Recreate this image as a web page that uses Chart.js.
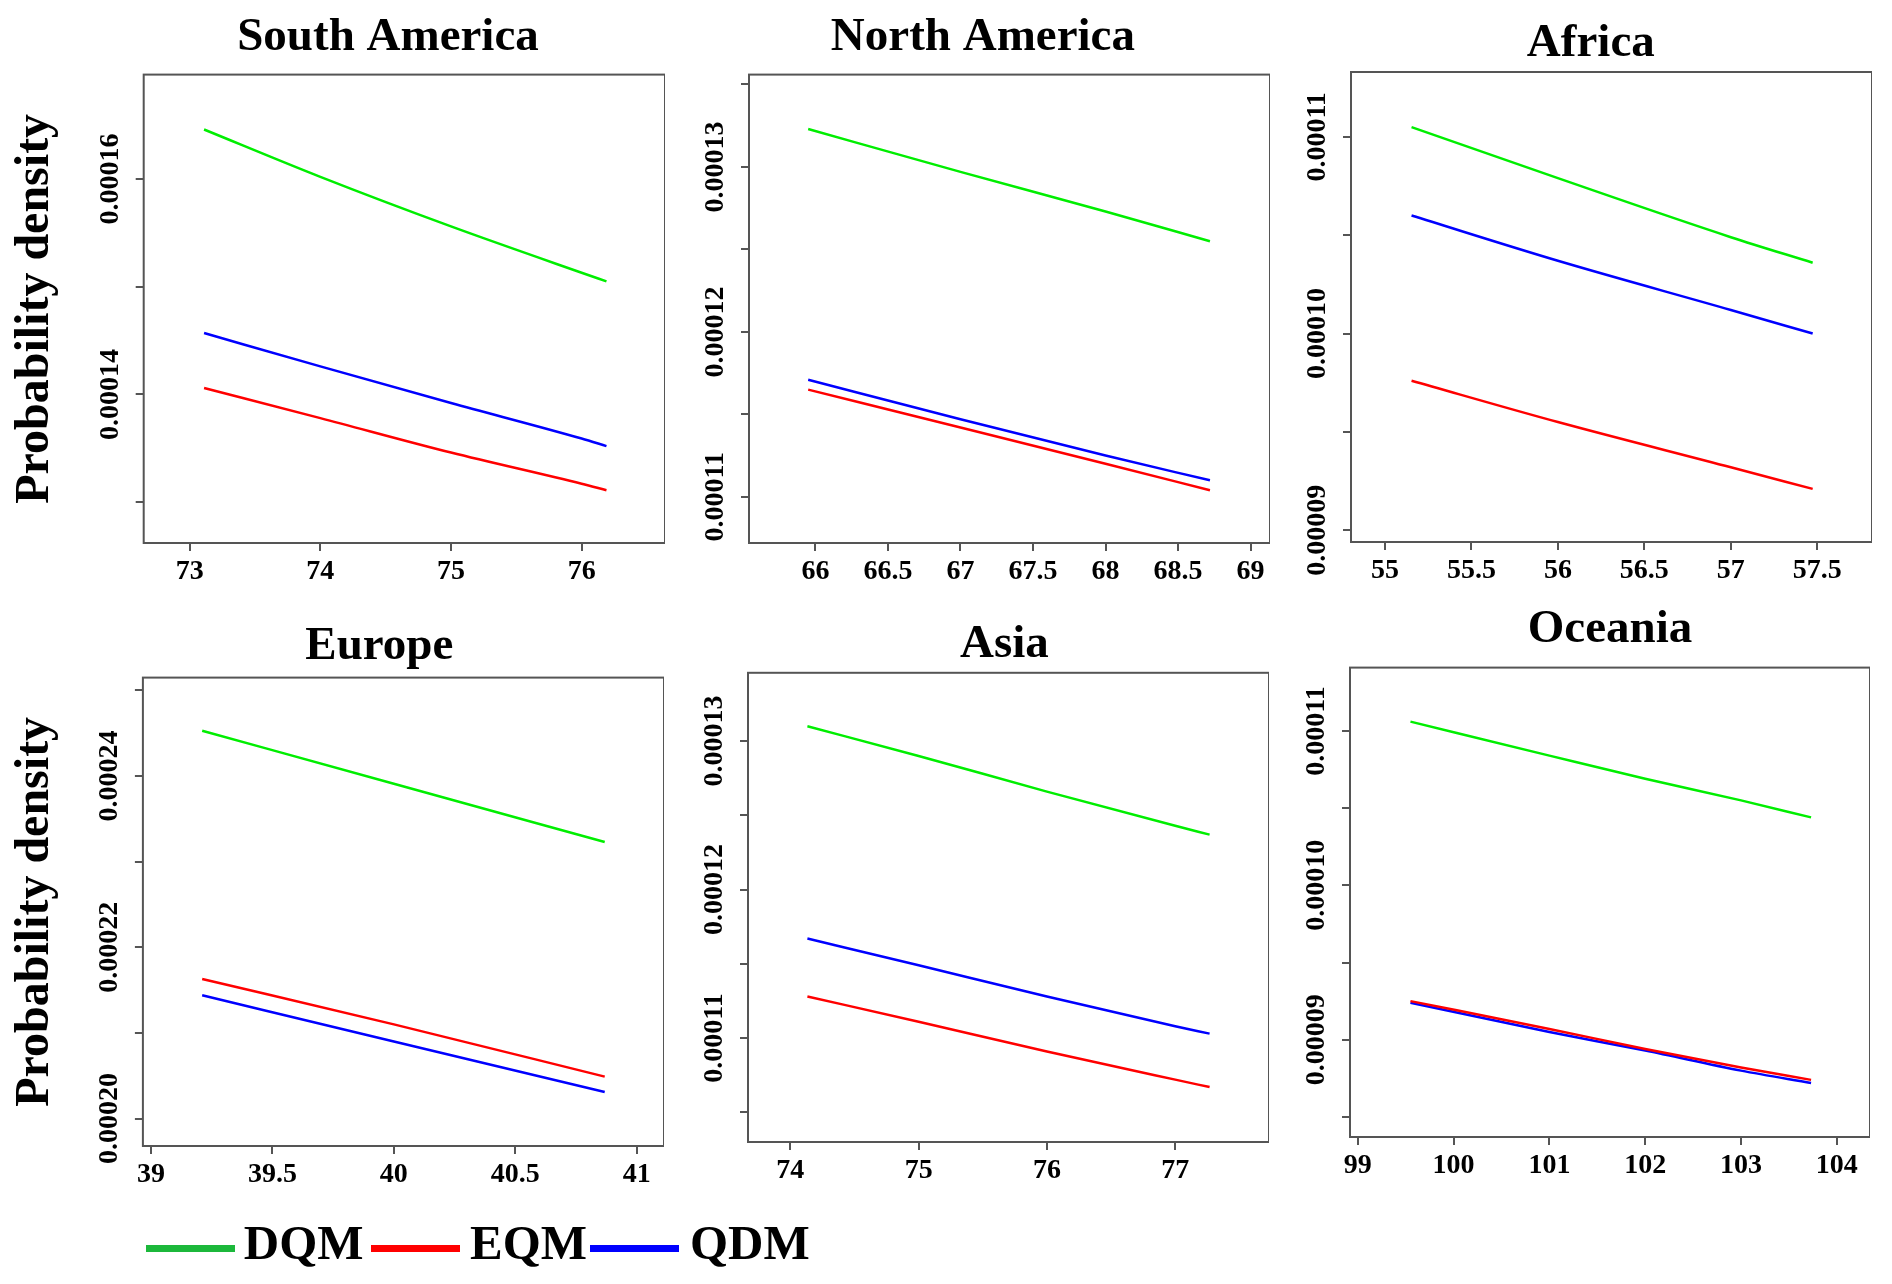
<!DOCTYPE html>
<html>
<head>
<meta charset="utf-8">
<script src="https://cdn.jsdelivr.net/npm/chart.js@4.4.1/dist/chart.umd.min.js"></script>
<style>
    html, body { margin: 0; padding: 0; width: 1892px; height: 1284px; overflow: hidden; background: #fff; }
    canvas { position: absolute; }
    .key-line { position: absolute; height: 7px; }
    .key-text { position: absolute; font: bold 49px "Liberation Serif", "Times New Roman", serif; line-height: 49px; color: #000; }
</style>
</head>
<body>
<script>
// ---- data ----
const seriesNames = ['DQM', 'EQM', 'QDM'];

// South America
const saX = [73.11, 74, 75, 76, 76.19];
const saDQM = [0.0001646, 0.0001602, 0.0001556, 0.0001513, 0.0001505];
const saEQM = [0.0001406, 0.0001378, 0.0001346, 0.0001317, 0.0001311];
const saQDM = [0.0001457, 0.0001426, 0.0001392, 0.0001359, 0.0001352];
const saXTicks = [73, 74, 75, 76];
const saYTicks = [0.00013, 0.00014, 0.00015, 0.00016];
const saYTickText = ['', '0.00014', '', '0.00016'];

// North America
const naX = [65.95, 67, 68, 68.72];
const naDQM = [0.0001323, 0.0001297, 0.0001273, 0.0001255];
const naEQM = [0.0001165, 0.0001142, 0.000112, 0.0001104];
const naQDM = [0.0001171, 0.0001147, 0.0001125, 0.000111];
const naXTicks = [66, 66.5, 67, 67.5, 68, 68.5, 69];
const naYTicks = [0.00011, 0.000115, 0.00012, 0.000125, 0.00013, 0.000135];
const naYTickText = ['0.00011', '', '0.00012', '', '0.00013', ''];

// Africa
const afX = [55.154, 56, 57, 57.473];
const afDQM = [0.0001105, 0.0001079, 0.0001049, 0.0001036];
const afEQM = [0.0000976, 0.0000955, 0.0000932, 0.0000921];
const afQDM = [0.000106, 0.0001037, 0.0001012, 0.0001];
const afXTicks = [55, 55.5, 56, 56.5, 57, 57.5];
const afYTicks = [0.00009, 0.000095, 0.0001, 0.000105, 0.00011];
const afYTickText = ['0.00009', '', '0.00010', '', '0.00011'];

// Europe
const euX = [39.211, 40, 40.868];
const euDQM = [0.0002453, 0.0002391, 0.0002323];
const euEQM = [0.0002163, 0.000211, 0.0002049];
const euQDM = [0.0002144, 0.000209, 0.0002031];
const euXTicks = [39, 39.5, 40, 40.5, 41];
const euYTicks = [0.0002, 0.00021, 0.00022, 0.00023, 0.00024, 0.00025];
const euYTickText = ['0.00020', '', '0.00022', '', '0.00024', ''];

// Asia
const asX = [74.133, 75, 76, 77, 77.268];
const asDQM = [0.000131, 0.000129, 0.0001266, 0.0001243, 0.0001237];
const asEQM = [0.0001128, 0.0001111, 0.0001091, 0.0001072, 0.0001067];
const asQDM = [0.0001167, 0.0001149, 0.0001128, 0.0001108, 0.0001103];
const asXTicks = [74, 75, 76, 77];
const asYTicks = [0.000105, 0.00011, 0.000115, 0.00012, 0.000125, 0.00013];
const asYTickText = ['', '0.00011', '', '0.00012', '', '0.00013'];

// Oceania
const ocX = [99.55, 101, 102, 103, 103.731];
const ocDQM = [0.0001106, 0.0001084, 0.0001069, 0.0001055, 0.0001044];
const ocEQM = [0.0000925, 0.0000907, 0.0000894, 0.0000882, 0.0000874];
const ocQDM = [0.0000924, 0.0000905, 0.0000893, 0.000088, 0.0000872];
const ocXTicks = [99, 100, 101, 102, 103, 104];
const ocYTicks = [0.000085, 0.00009, 0.000095, 0.0001, 0.000105, 0.00011];
const ocYTickText = ['', '0.00009', '', '0.00010', '', '0.00011'];

// ---- styles / layout ----
const SERIF = '"Liberation Serif", "Times New Roman", serif';
const lineColors = ['#00ee00', '#ff0000', '#0000ff'];
const keyColors = ['#1cb83b', '#ff0000', '#0000ff'];
const TICK_SIZE = 28;
const TITLE_SIZE = 47;
const X_AXIS_H = 50;

// box = [left, right, top, bottom] of the plot frame in page pixels
const panels = [
    { title: 'South America', x: saX, series: [saDQM, saEQM, saQDM], xTicks: saXTicks, yTicks: saYTicks, yText: saYTickText,
      xMin: 72.648, xMax: 76.638, yMin: 0.0001262, yMax: 0.0001697, box: [143.7, 665, 74.6, 543.4], titleX: 388, titleMid: 37.9, top: 0, first: true },
    { title: 'North America', x: naX, series: [naDQM, naEQM, naQDM], xTicks: naXTicks, yTicks: naYTicks, yText: naYTickText,
      xMin: 65.542, xMax: 69.134, yMin: 0.0001072, yMax: 0.0001356, box: [749.2, 1270, 74.6, 543.4], titleX: 983, titleMid: 37.9, top: 0 },
    { title: 'Africa', x: afX, series: [afDQM, afEQM, afQDM], xTicks: afXTicks, yTicks: afYTicks, yText: afYTickText,
      xMin: 54.804, xMax: 57.816, yMin: 0.0000894, yMax: 0.0001133, box: [1351.4, 1872, 72, 542.3], titleX: 1591, titleMid: 43.6, top: 0 },
    { title: 'Europe', x: euX, series: [euDQM, euEQM, euQDM], xTicks: euXTicks, yTicks: euYTicks, yText: euYTickText,
      xMin: 38.967, xMax: 41.112, yMin: 0.0001968, yMax: 0.0002515, box: [142.9, 664.3, 677.6, 1146.1], titleX: 379.5, titleMid: 647.2, top: 590, first: true },
    { title: 'Asia', x: asX, series: [asDQM, asEQM, asQDM], xTicks: asXTicks, yTicks: asYTicks, yText: asYTickText,
      xMin: 73.670, xMax: 77.731, yMin: 0.000103, yMax: 0.0001346, box: [748.4, 1269, 672.8, 1142.2], titleX: 1004.6, titleMid: 645.1, top: 590 },
    { title: 'Oceania', x: ocX, series: [ocDQM, ocEQM, ocQDM], xTicks: ocXTicks, yTicks: ocYTicks, yText: ocYTickText,
      xMin: 98.919, xMax: 104.346, yMin: 0.0000837, yMax: 0.0001141, box: [1350.3, 1870.5, 667.6, 1136.5], titleX: 1620, titleMid: 629.8, top: 590 }
];

// frame around the plotting region (R style box)
const plotBox = {
    id: 'plotBox',
    afterDraw(chart) {
        const { ctx, chartArea: a } = chart;
        ctx.save();
        ctx.strokeStyle = '#555';
        ctx.lineWidth = 2;
        ctx.strokeRect(a.left, a.top, a.right - a.left, a.bottom - a.top);
        ctx.restore();
    }
};

const measure = document.createElement('canvas').getContext('2d');
measure.font = `bold ${TICK_SIZE}px ${SERIF}`;

panels.forEach(p => {
    const [bl, br, bt, bb] = p.box;
    const canvasL = p.first ? 0 : bl - 75;
    const yW = Math.max(0, bl + br - 2 * p.titleX);   // keeps the title centred where it is in the figure
    const padL = bl - canvasL - yW;
    const W = Math.round(br - canvasL);
    const H = Math.round(bb - p.top + X_AXIS_H);

    const cv = document.createElement('canvas');
    cv.width = W;
    cv.height = H;
    cv.style.left = canvasL + 'px';
    cv.style.top = p.top + 'px';
    document.body.appendChild(cv);

    const titleTop = p.titleMid - p.top - TITLE_SIZE / 2;
    const titleBottom = bt - p.top - titleTop - TITLE_SIZE;

    // mirrored labels are not clipped to the (narrow) axis box; pull them back left of the frame
    const widest = Math.max(...p.yText.map(t => measure.measureText(t).width));
    const yPad = -33 - widest / 2;

    const yTitleX = 35.4;   // page x of the rotated axis title
    const yTitlePad = yTitleX - (canvasL + padL) - 24;

    new Chart(cv, {
        type: 'line',
        data: {
            datasets: p.series.map((ys, k) => ({
                label: seriesNames[k],
                data: p.x.map((x, j) => ({ x: x, y: ys[j] })),
                borderColor: lineColors[k],
                borderWidth: 2.5,
                pointRadius: 0,
                cubicInterpolationMode: 'monotone'
            }))
        },
        options: {
            responsive: false,
            animation: false,
            layout: { padding: { left: padL, right: 0, top: 0, bottom: 0 } },
            plugins: {
                legend: { display: false },
                tooltip: { enabled: false },
                title: {
                    display: true,
                    text: p.title,
                    color: '#000',
                    font: { family: SERIF, size: TITLE_SIZE, weight: 'bold', lineHeight: 1 },
                    padding: { top: titleTop, bottom: titleBottom }
                }
            },
            scales: {
                x: {
                    type: 'linear',
                    min: p.xMin,
                    max: p.xMax,
                    bounds: 'data',
                    afterBuildTicks: s => { s.ticks = p.xTicks.map(v => ({ value: v })); },
                    afterFit: s => { s.height = X_AXIS_H; },
                    ticks: {
                        autoSkip: false,
                        maxRotation: 0,
                        color: '#000',
                        padding: 4,
                        font: { family: SERIF, size: TICK_SIZE, weight: 'bold' },
                        callback: v => String(v)
                    },
                    grid: { drawOnChartArea: false, tickLength: 8, color: '#555', lineWidth: 2 },
                    border: { display: false }
                },
                y: {
                    type: 'linear',
                    min: p.yMin,
                    max: p.yMax,
                    bounds: 'data',
                    afterBuildTicks: s => { s.ticks = p.yTicks.map(v => ({ value: v })); },
                    afterFit: s => { s.width = yW; },
                    ticks: {
                        autoSkip: false,
                        mirror: true,
                        minRotation: 90,
                        maxRotation: 90,
                        crossAlign: 'center',
                        padding: yPad,
                        color: '#000',
                        font: { family: SERIF, size: TICK_SIZE, weight: 'bold' },
                        callback: (v, i) => p.yText[i]
                    },
                    grid: { drawOnChartArea: false, tickLength: 8, color: '#555', lineWidth: 2 },
                    border: { display: false },
                    title: {
                        display: !!p.first,
                        text: 'Probability density',
                        color: '#000',
                        font: { family: SERIF, size: 48, weight: 'bold', lineHeight: 1 },
                        padding: { top: yTitlePad, bottom: 0 }
                    }
                }
            }
        },
        plugins: [plotBox]
    });
});

// shared legend under the bottom row
const keyLineX = [145.6, 371, 590];
const keyTextX = [243.8, 470, 690];
seriesNames.forEach((name, k) => {
    const line = document.createElement('div');
    line.className = 'key-line';
    line.style.left = keyLineX[k] + 'px';
    line.style.top = '1245px';
    line.style.width = '89px';
    line.style.background = keyColors[k];
    document.body.appendChild(line);

    const txt = document.createElement('div');
    txt.className = 'key-text';
    txt.style.left = keyTextX[k] + 'px';
    txt.style.top = '1218px';
    txt.textContent = name;
    document.body.appendChild(txt);
});
</script>
</body>
</html>
